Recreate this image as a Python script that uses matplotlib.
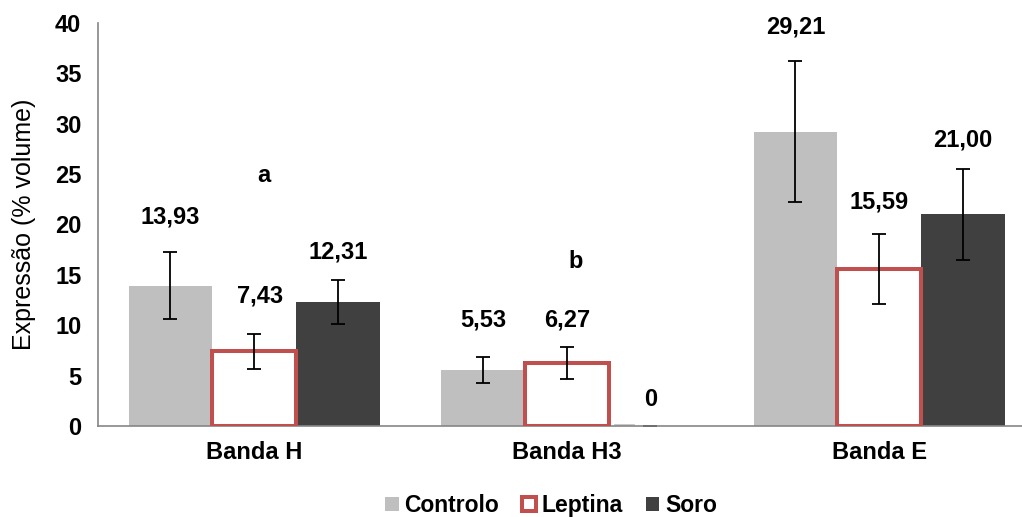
import matplotlib.pyplot as plt
from matplotlib.patches import Patch
import numpy as np

plt.rcParams['font.family'] = ['Liberation Sans', 'DejaVu Sans']

bandas = ['Banda H', 'Banda H3', 'Banda E']
controlo = [13.93, 5.53, 29.21]
leptina = [7.43, 6.27, 15.59]
soro = [12.31, 0.0, 21.00]
controlo_err = [3.35, 1.30, 7.00]
leptina_err = [1.74, 1.60, 3.45]
soro_err = [2.15, 0.0, 4.50]
controlo_txt = ['13,93', '5,53', '29,21']
leptina_txt = ['7,43', '6,27', '15,59']
soro_txt = ['12,31', '0', '21,00']
letras = ['a', 'b', '']

# label heights (data units) for each series
controlo_lab_y = [20.7, 10.5, 39.6]
leptina_lab_y = [12.9, 10.5, 22.2]
soro_lab_y = [17.3, 2.6, 28.4]
letra_y = [24.9, 16.3, 0]

fig = plt.figure(figsize=(10.22, 5.17), dpi=100)
ax = fig.add_axes([98/1022, 1-426/517, 1-98/1022, (426-23)/517])

x = np.arange(len(bandas))
w = 0.268
err_kw = dict(ecolor='black', elinewidth=1.3, capsize=5, capthick=1.3)

ax.bar(x - w, controlo, w, color='#BFBFBF', yerr=controlo_err,
       error_kw=err_kw, zorder=2)
ax.bar(x, leptina, w, facecolor='white', edgecolor='#C0504D', linewidth=2.9,
       yerr=leptina_err, error_kw=err_kw, zorder=3)
ax.bar(x + w, soro, w, color='#404040', yerr=soro_err,
       error_kw=err_kw, zorder=2)
# zero-height bar shows as a thin mark on the baseline
ax.plot([x[1] + w/2 + 0.02, x[1] + w/2 + 0.08], [0.05, 0.05], color='#BFBFBF', lw=1.2, zorder=1)

tkw = dict(ha='center', va='center', fontsize=17, fontweight='bold')
for i in range(len(bandas)):
    ax.text(x[i] - w, controlo_lab_y[i], controlo_txt[i], **tkw)
    ax.text(x[i] + (0.02 if i == 0 else 0), leptina_lab_y[i], leptina_txt[i], **tkw)
    ax.text(x[i] + w, soro_lab_y[i], soro_txt[i], **tkw)
    if letras[i]:
        ax.text(x[i] + 0.03, letra_y[i], letras[i], **tkw)

ax.set_xlim(-0.5, 2.457)
ax.set_ylim(0, 40)
ax.set_yticks(np.arange(0, 41, 5))
ax.set_xticks(x)
ax.set_xticklabels(bandas, fontsize=17, fontweight='bold')
for lab in ax.get_yticklabels():
    lab.set_fontsize(17)
    lab.set_fontweight('bold')
ax.tick_params(axis='y', length=0, pad=12)
ax.tick_params(axis='x', length=0, pad=11)
ax.set_ylabel('Expressão (% volume)', fontsize=18, labelpad=14)

for s in ['top', 'right']:
    ax.spines[s].set_visible(False)
for s in ['left', 'bottom']:
    ax.spines[s].set_color('#868686')
    ax.spines[s].set_linewidth(1.2)

handles = [Patch(facecolor='#BFBFBF', label='Controlo'),
           Patch(facecolor='white', edgecolor='#C0504D', linewidth=2.9, label='Leptina'),
           Patch(facecolor='#404040', label='Soro')]
fig.legend(handles=handles, loc='center', bbox_to_anchor=(0.539, 0.022), ncol=3,
           frameon=False, handlelength=0.6, handleheight=0.6, handletextpad=0.25,
           columnspacing=1.0, prop={'size': 16.5, 'weight': 'bold'})

fig.savefig('out.png', dpi=100)
